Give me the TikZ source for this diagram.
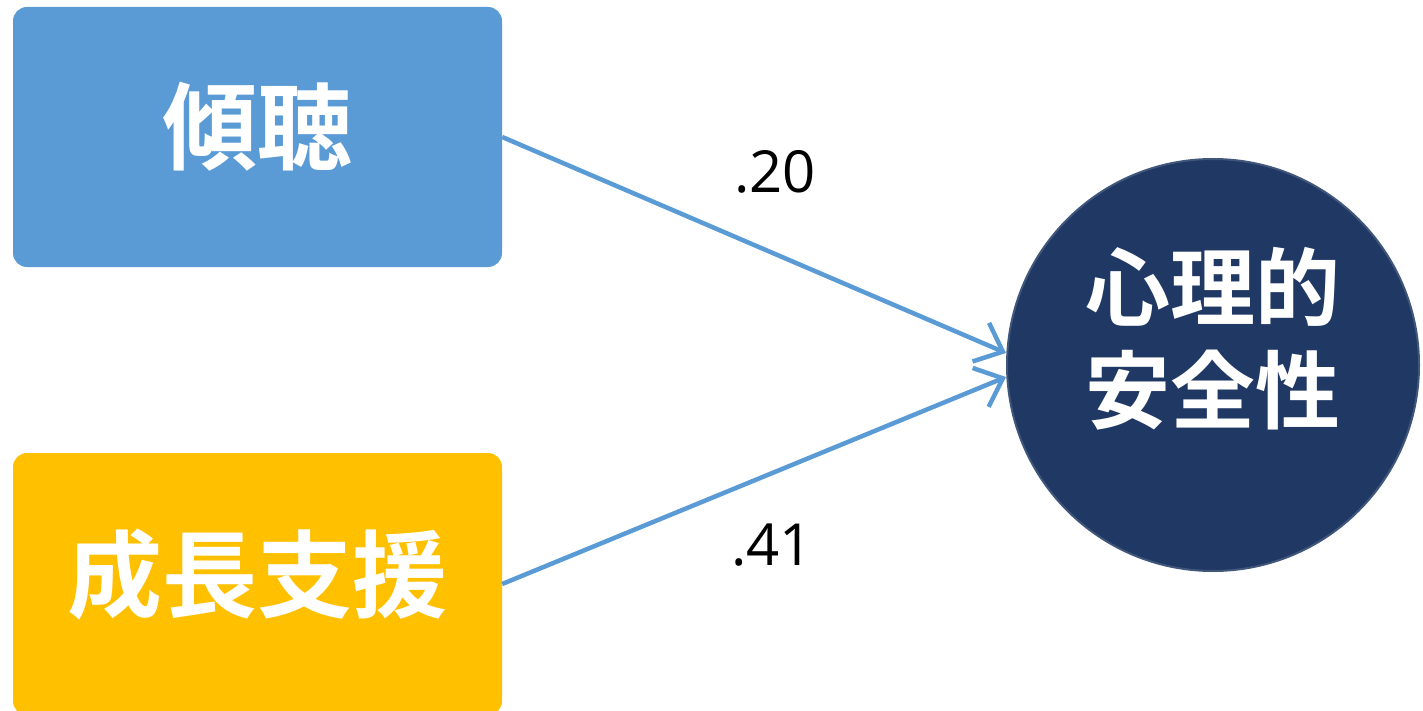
\documentclass[tikz,border=0pt]{standalone}
\usepackage{fontspec}
\setmainfont{Open Sans}
\newfontfamily\cjk{Noto Sans CJK JP}[BoldFont={* Bold}]
\usetikzlibrary{arrows.meta,shadows}
\definecolor{boxblue}{HTML}{5B9BD5}
\definecolor{boxyellow}{HTML}{FFC000}
\definecolor{navy}{HTML}{203864}
\tikzset{
  factor/.style={rounded corners=14pt, minimum width=489pt, inner sep=0pt, text=white, text height=52pt, text depth=0pt, font=\cjk\bfseries\fontsize{95}{110}\selectfont},
  outcome/.style={circle, fill=navy, draw=navy!85!white, line width=2pt, minimum size=412pt, inner sep=0pt, text=white, align=center, font=\cjk\bfseries\fontsize{85}{103}\selectfont},
  conn/.style={draw=boxblue, line width=4.5pt, -{Straight Barb[length=24pt,width=42pt,line width=4.5pt]}},
  coef/.style={font=\fontsize{58}{62}\selectfont, text=black}
}
\begin{document}
\begin{tikzpicture}[x=1pt,y=-1pt]
\useasboundingbox (0,0) rectangle (1423,711);
\node[factor, fill=boxblue, minimum height=260pt] (listen) at (257.5,137) {傾聴};
\node[factor, fill=boxyellow, minimum height=262pt] (growth) at (257.5,584) {成長支援};
\node[outcome] (psafe) at (1213,365) {心理的\\安全性\\[-42pt]\mbox{}};
\coordinate (in1) at ([yshift=12pt]psafe.west);
\coordinate (in2) at ([yshift=-12pt]psafe.west);
\draw[conn] (listen.east) -- (in1);
\draw[conn] (growth.east) -- (in2);
\node[coef] (c1) at (775,172) {.20};
\node[coef] (c2) at (772,545) {.41};
\end{tikzpicture}
\end{document}
